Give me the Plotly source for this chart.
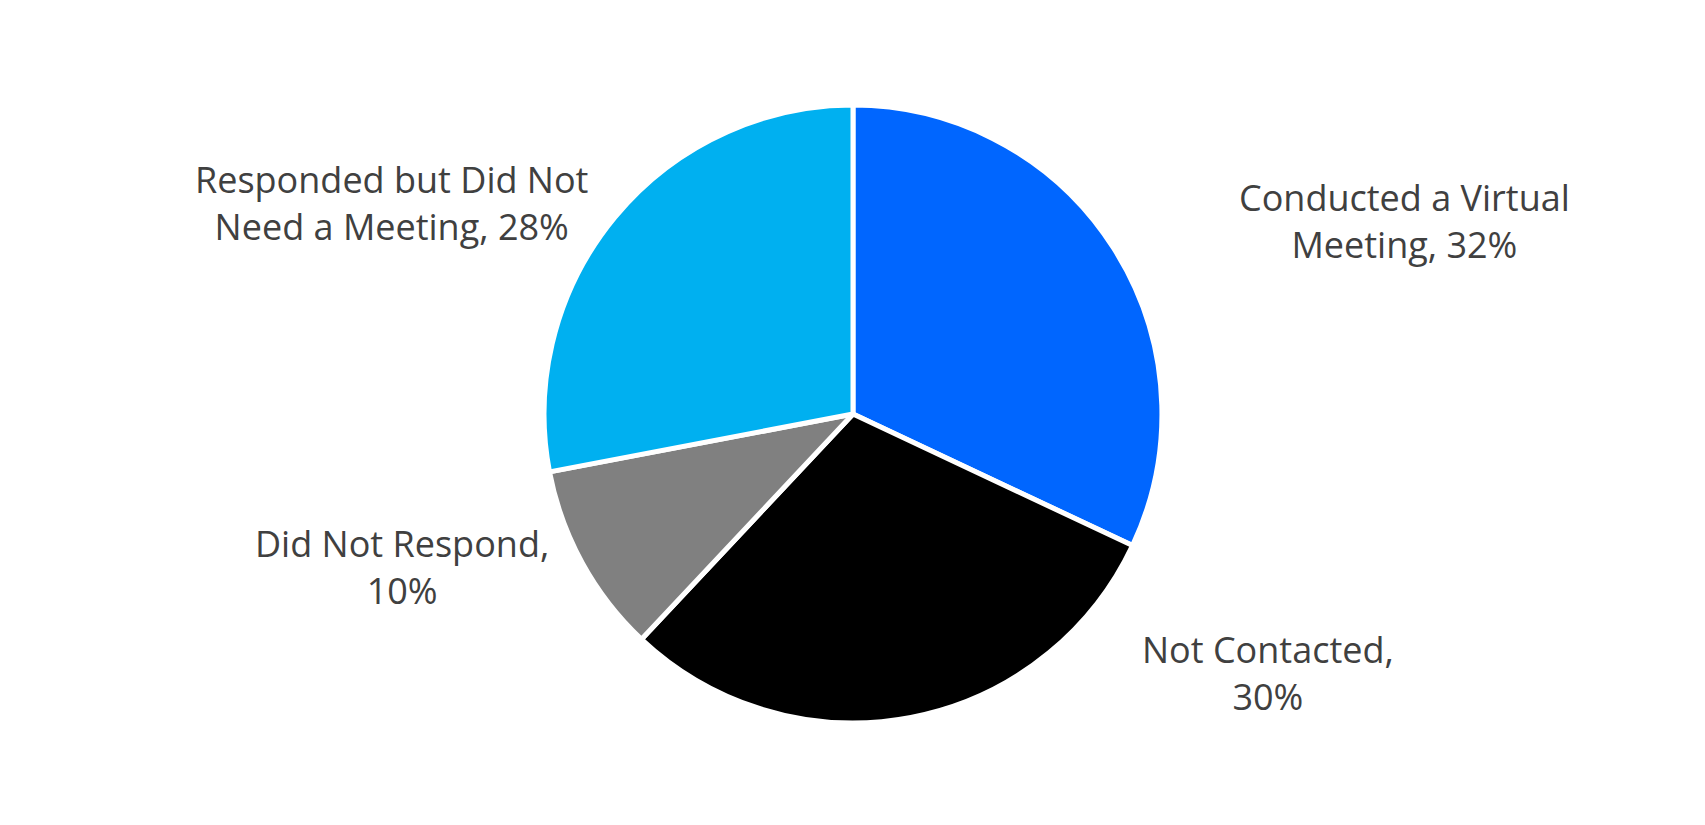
import plotly.graph_objects as go

# Anteile der Kontaktergebnisse (in %)
kategorien = ["Conducted a Virtual Meeting", "Not Contacted", "Did Not Respond",
              "Responded but Did Not Need a Meeting"]
werte = [32, 30, 10, 28]
farben = ["#0066FF", "#000000", "#808080", "#00B0F0"]
beschriftung = ["Conducted a Virtual<br>Meeting, {}%", "Not Contacted,<br>{}%",
                "Did Not Respond,<br>{}%", "Responded but Did Not<br>Need a Meeting, {}%"]

# Lage der Beschriftungen (Papierkoordinaten)
label_pos = [(0.8188, 0.7418), (0.739, 0.1939), (0.2311, 0.3224), (0.2252, 0.7636)]

fig = go.Figure()
fig.add_pie(
    labels=kategorien,
    values=werte,
    sort=False,
    direction="clockwise",
    rotation=0,
    textinfo="none",
    marker=dict(colors=farben, line=dict(color="white", width=5)),
    domain=dict(x=[0.3144, 0.6768], y=[0.1333, 0.8824]),
    showlegend=False,
)

for text, wert, (x, y) in zip(beschriftung, werte, label_pos):
    fig.add_annotation(x=x, y=y, xref="paper", yref="paper", text=text.format(wert),
                       showarrow=False, xanchor="center", yanchor="middle",
                       font=dict(family="Open Sans", size=36, color="#404040"))

fig.update_layout(
    width=1705, height=825,
    margin=dict(l=0, r=0, t=0, b=0),
    paper_bgcolor="white",
    plot_bgcolor="white",
)

fig.write_html("out.html")
